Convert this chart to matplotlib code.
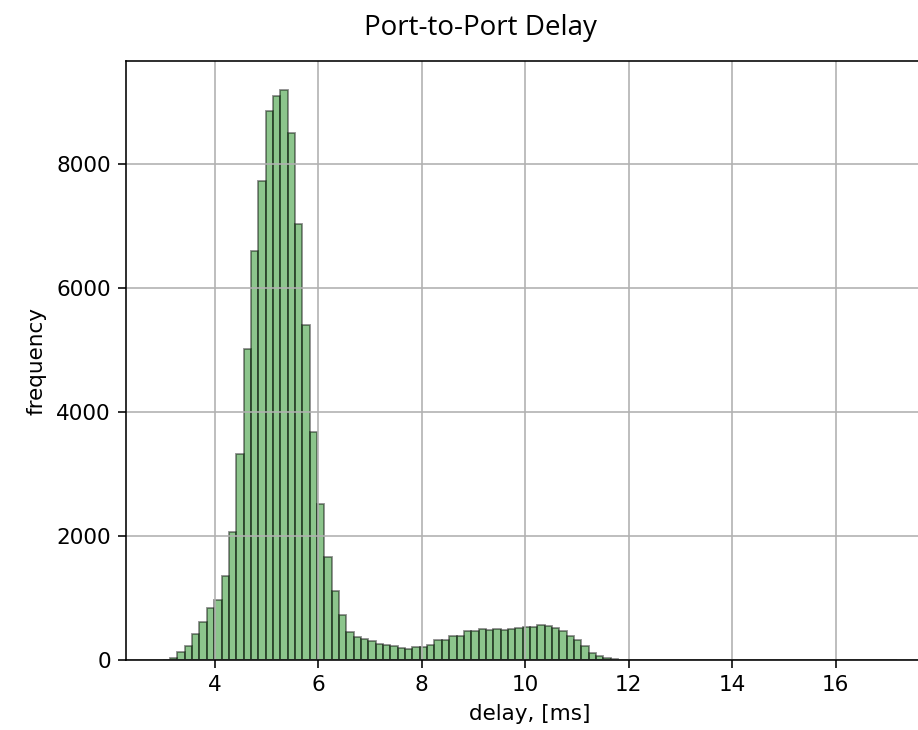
import numpy as np
import matplotlib
matplotlib.use("Agg")
import matplotlib.pyplot as plt

# histogram of port-to-port delay, 100 bins
bin_start = 2.99
bin_end = 17.19
n_bins = 100
counts = [5, 27, 131, 229, 420, 605, 840, 970, 1350, 2060,
          3320, 5020, 6590, 7730, 8860, 9100, 9200, 8500, 7030, 5410,
          3680, 2515, 1660, 1115, 720, 450, 375, 345, 312, 265,
          240, 232, 200, 180, 205, 210, 240, 320, 320, 395,
          395, 475, 475, 500, 480, 495, 485, 500, 510, 530,
          530, 570, 545, 515, 465, 395, 315, 232, 110, 70,
          35, 10, 3, 1, 0, 1, 0, 0, 0, 0,
          0, 0, 0, 0, 0, 0, 0, 0, 0, 0,
          0, 0, 0, 0, 0, 0, 0, 0, 0, 0,
          0, 0, 0, 0, 0, 0, 0, 0, 0, 2]
x_ticks = [4, 6, 8, 10, 12, 14, 16]
y_ticks = [0, 2000, 4000, 6000, 8000]

edges = np.linspace(bin_start, bin_end, n_bins + 1)
centers = (edges[:-1] + edges[1:]) / 2

plt.rcParams['font.family'] = ['DejaVu Sans']
fig = plt.figure(figsize=(9.18, 7.30), dpi=100)
ax = fig.add_axes([0.1373, 0.0959, 0.88, 0.8205])

ax.hist(centers, bins=edges, weights=counts, color="g", alpha=0.45,
        edgecolor="k", linewidth=1.3)
ax.grid(True, color="#b0b0b0", linewidth=1.15)

ax.set_xticks(x_ticks)
ax.set_yticks(y_ticks)
ax.tick_params(labelsize=15.5, length=6, width=1.15, pad=5)
for s in ax.spines.values():
    s.set_linewidth(1.15)

ax.set_xlabel("delay, [ms]", fontsize=15.5, labelpad=6)
ax.set_ylabel("frequency", fontsize=15.5, labelpad=7)

fig.text(0.523, 0.962, "Port-to-Port Delay", ha="center", va="center",
         fontsize=20, family=["Open Sans", "DejaVu Sans"])

fig.savefig("out.png", dpi=100)
